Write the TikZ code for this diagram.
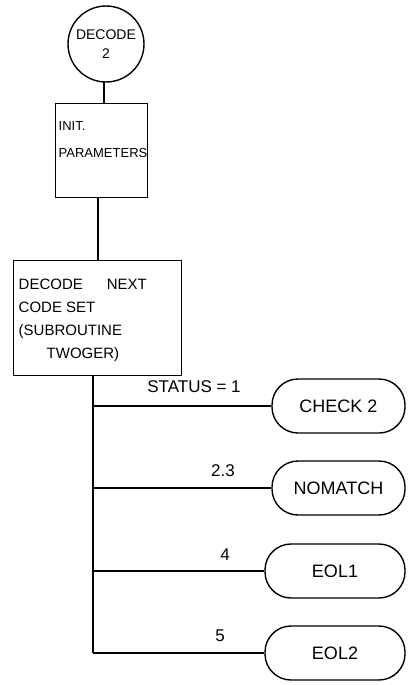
\documentclass[tikz,border=0pt]{standalone}
\usepackage{fontspec}
\setmainfont{Liberation Sans}
\begin{document}
\begin{tikzpicture}[x=1pt,y=-1pt, line width=1.4pt,
  rbox/.style={draw, rectangle, inner sep=0pt, anchor=north west},
  term/.style={draw, rectangle, rounded corners=26pt, minimum height=54pt, inner sep=0pt, font=\fontsize{18}{20}\selectfont},
  lbl/.style={font=\fontsize{17}{19}\selectfont, inner sep=1pt},
  txt/.style={align=left, inner sep=0pt, font=\fontsize{15}{23}\selectfont}]
\useasboundingbox (0,0) rectangle (410,685);
% start circle
\node[draw, circle, minimum size=76pt, inner sep=0pt, align=center, font=\fontsize{14}{19}\selectfont] (start) at (106,44) {DECODE\\2};
% init box
\node[rbox, minimum width=92pt, minimum height=94pt] (init) at (55,103) {};
\node[txt, anchor=north west, font=\fontsize{13}{27}\selectfont] (initT) at (58,121) {INIT.\\PARAMETERS};
% decode box
\node[rbox, minimum width=168pt, minimum height=115pt] (dec) at (13,260) {};
\node[txt, anchor=north west] (decT) at (18,278) {DECODE\hspace{24pt}NEXT\\CODE SET\\(SUBROUTINE\\\hspace{28pt}TWOGER)};
% terminals
\node[term, minimum width=133pt] (chk) at (338.5,406) {CHECK 2};
\node[term, minimum width=133pt] (nom) at (338.5,488) {NOMATCH};
\node[term, minimum width=140pt] (eol1) at (335,571) {EOL1};
\node[term, minimum width=140pt] (eol2) at (335,653) {EOL2};
% junctions
\coordinate (a0) at (104,82);
\coordinate (b0) at (98,197);
\coordinate (t0) at (93,375);
\coordinate (j1) at (93,406);
\coordinate (j2) at (93,488);
\coordinate (j3) at (93,571);
\coordinate (j4) at (93,653);
% connectors
\draw (a0) -- (a0 |- init.north);
\draw (b0) -- (b0 |- dec.north);
\draw (t0) -- (j4);
\draw (j1) -- (chk.west);
\draw (j2) -- (nom.west);
\draw (j3) -- (eol1.west);
\draw (j4) -- (eol2.west);
% branch labels
\node[lbl] (l1) at (194,387) {STATUS = 1};
\node[lbl] (l2) at (223,471) {2.3};
\node[lbl] (l3) at (225,555) {4};
\node[lbl] (l4) at (220,636) {5};
\end{tikzpicture}
\end{document}
